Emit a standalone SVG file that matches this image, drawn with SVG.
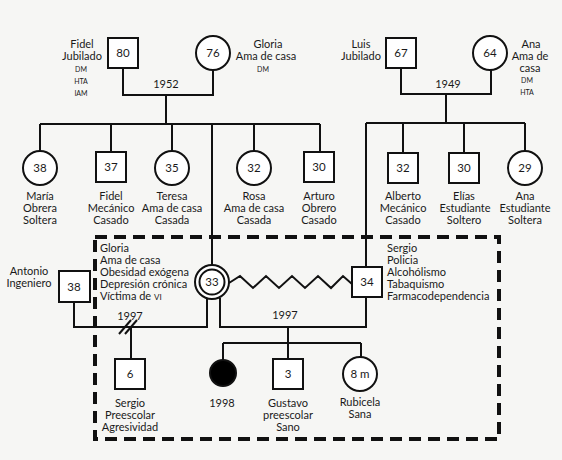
<svg xmlns="http://www.w3.org/2000/svg" width="562" height="460" viewBox="0 0 562 460">
<style>
text{font-family:Lato,"Open Sans","Liberation Sans",sans-serif;font-size:11px;fill:#1a1a1a}
.c{text-anchor:middle}
.e{text-anchor:end}
.s{font-size:7px}
.n{font-size:11.5px;text-anchor:middle}
.sh{fill:#fff;stroke:#111;stroke-width:2}
.ln{fill:none;stroke:#111;stroke-width:2}
</style>
<rect width="562" height="460" fill="#f6f6f4"/>
<g id="connectors" class="ln">
<polyline points="123,68 123,95 213,95 213,70"/>
<line x1="166" y1="95" x2="166" y2="124"/>
<line x1="40" y1="124" x2="320" y2="124"/>
<line x1="40" y1="124" x2="40" y2="151"/>
<line x1="111" y1="124" x2="111" y2="152"/>
<line x1="172" y1="124" x2="172" y2="151"/>
<line x1="212" y1="124" x2="212" y2="265"/>
<line x1="254" y1="124" x2="254" y2="151"/>
<line x1="320" y1="124" x2="320" y2="152"/>
<polyline points="401,68 401,94 491,94 491,70"/>
<line x1="446" y1="94" x2="446" y2="123"/>
<line x1="366" y1="123" x2="525" y2="123"/>
<line x1="366" y1="123" x2="366" y2="266"/>
<line x1="403" y1="123" x2="403" y2="153"/>
<line x1="464" y1="123" x2="464" y2="153"/>
<line x1="525" y1="123" x2="525" y2="151"/>
<polyline points="229,283 240,276 253,288 266,276 279,288 292,276 305,288 318,276 331,288 343,276 352,284"/>
<polyline points="74,302 74,327 207,327 207,298"/>
<line x1="131" y1="327" x2="131" y2="359"/>
<line x1="119" y1="334" x2="131" y2="320"/>
<line x1="125" y1="334" x2="137" y2="320"/>
<polyline points="220,298 220,327 366,327 366,297"/>
<line x1="288" y1="327" x2="288" y2="359"/>
<line x1="223" y1="343" x2="361" y2="343"/>
<line x1="223" y1="343" x2="223" y2="360"/>
<line x1="361" y1="343" x2="361" y2="357"/>
</g>
<rect x="95" y="237" width="404" height="202" fill="none" stroke="#111" stroke-width="4" stroke-dasharray="12 7"/>
<g id="fidel80"><rect class="sh" x="108" y="38" width="30" height="30"/><text class="n" x="123" y="57">80</text>
<text class="c" x="82" y="48">Fidel</text><text class="c" x="82" y="60">Jubilado</text>
<text class="c s" x="81" y="72">DM</text><text class="c s" x="81" y="84">HTA</text><text class="c s" x="81" y="96">IAM</text></g>
<g id="gloria76"><circle class="sh" cx="213" cy="53" r="17"/><text class="n" x="213" y="57">76</text>
<text class="c" x="268" y="48">Gloria</text><text class="c" x="266" y="60">Ama de casa</text><text class="c s" x="263" y="72">DM</text></g>
<g id="luis67"><rect class="sh" x="386" y="38" width="30" height="30"/><text class="n" x="401" y="57">67</text>
<text class="c" x="361" y="48">Luis</text><text class="c" x="361" y="60">Jubilado</text></g>
<g id="ana64"><circle class="sh" cx="490" cy="53" r="17"/><text class="n" x="490" y="57">64</text>
<text class="c" x="531" y="48">Ana</text><text class="c" x="530" y="60">Ama de</text><text class="c" x="530" y="72">casa</text>
<text class="c s" x="527" y="83">DM</text><text class="c s" x="527" y="95">HTA</text></g>
<text class="c" x="166" y="88">1952</text>
<text class="c" x="448" y="88">1949</text>
<g id="maria38"><circle class="sh" cx="40" cy="168" r="17"/><text class="n" x="40" y="172">38</text>
<text class="c" x="40" y="200">María</text><text class="c" x="40" y="212">Obrera</text><text class="c" x="40" y="224">Soltera</text></g>
<g id="fidel37"><rect class="sh" x="96" y="152" width="30" height="30"/><text class="n" x="111" y="171">37</text>
<text class="c" x="111" y="200">Fidel</text><text class="c" x="111" y="212">Mecánico</text><text class="c" x="111" y="224">Casado</text></g>
<g id="teresa35"><circle class="sh" cx="172" cy="168" r="17"/><text class="n" x="172" y="172">35</text>
<text class="c" x="172" y="200">Teresa</text><text class="c" x="172" y="212">Ama de casa</text><text class="c" x="172" y="224">Casada</text></g>
<g id="rosa32"><circle class="sh" cx="254" cy="168" r="17"/><text class="n" x="254" y="172">32</text>
<text class="c" x="254" y="200">Rosa</text><text class="c" x="254" y="212">Ama de casa</text><text class="c" x="254" y="224">Casada</text></g>
<g id="arturo30"><rect class="sh" x="304" y="152" width="30" height="30"/><text class="n" x="319" y="171">30</text>
<text class="c" x="319" y="200">Arturo</text><text class="c" x="319" y="212">Obrero</text><text class="c" x="319" y="224">Casado</text></g>
<g id="alberto32"><rect class="sh" x="388" y="153" width="30" height="30"/><text class="n" x="403" y="172">32</text>
<text class="c" x="403" y="200">Alberto</text><text class="c" x="403" y="212">Mecánico</text><text class="c" x="403" y="224">Casado</text></g>
<g id="elias30"><rect class="sh" x="449" y="153" width="30" height="30"/><text class="n" x="464" y="172">30</text>
<text class="c" x="464" y="200">Elías</text><text class="c" x="465" y="212">Estudiante</text><text class="c" x="464" y="224">Soltero</text></g>
<g id="ana29"><circle class="sh" cx="525" cy="168" r="17"/><text class="n" x="525" y="172">29</text>
<text class="c" x="525" y="200">Ana</text><text class="c" x="525" y="212">Estudiante</text><text class="c" x="525" y="224">Soltera</text></g>
<g id="antonio38"><rect class="sh" x="59" y="271" width="31" height="31"/><text class="n" x="74" y="291">38</text>
<text class="c" x="29" y="275">Antonio</text><text class="c" x="29" y="287">Ingeniero</text></g>
<g id="gloria33"><circle class="sh" cx="212" cy="282" r="17"/><circle class="sh" cx="212" cy="282" r="12.5"/><text class="n" x="212" y="286">33</text>
<text x="100" y="252">Gloria</text><text x="100" y="264">Ama de casa</text><text x="100" y="276">Obesidad  exógena</text>
<text x="100" y="288">Depresión crónica</text><text x="100" y="300">Víctima de <tspan font-size="8">VI</tspan></text></g>
<g id="sergio34"><rect class="sh" x="352" y="267" width="30" height="30"/><text class="n" x="367" y="286">34</text>
<text x="387" y="252">Sergio</text><text x="387" y="264">Policia</text><text x="387" y="276">Alcohólismo</text>
<text x="387" y="288">Tabaquismo</text><text x="387" y="300">Farmacodependencia</text></g>
<text class="c" x="130" y="320">1997</text>
<text class="c" x="285" y="319">1997</text>
<g id="sergio6"><rect class="sh" x="115" y="359" width="30" height="30"/><text class="n" x="130" y="378">6</text>
<text class="c" x="130" y="407">Sergio</text><text class="c" x="130" y="419">Preescolar</text><text class="c" x="130" y="431">Agresividad</text></g>
<g id="death1998"><circle cx="223" cy="373" r="13" fill="#000" stroke="#111" stroke-width="2"/>
<text class="c" x="222" y="407">1998</text></g>
<g id="gustavo3"><rect class="sh" x="273" y="359" width="30" height="30"/><text class="n" x="288" y="378">3</text>
<text class="c" x="288" y="407">Gustavo</text><text class="c" x="288" y="419">preescolar</text><text class="c" x="288" y="431">Sano</text></g>
<g id="rubicela"><circle class="sh" cx="360" cy="374" r="17"/><text class="n" x="360" y="378">8 m</text>
<text class="c" x="360" y="406">Rubicela</text><text class="c" x="360" y="418">Sana</text></g>
</svg>
